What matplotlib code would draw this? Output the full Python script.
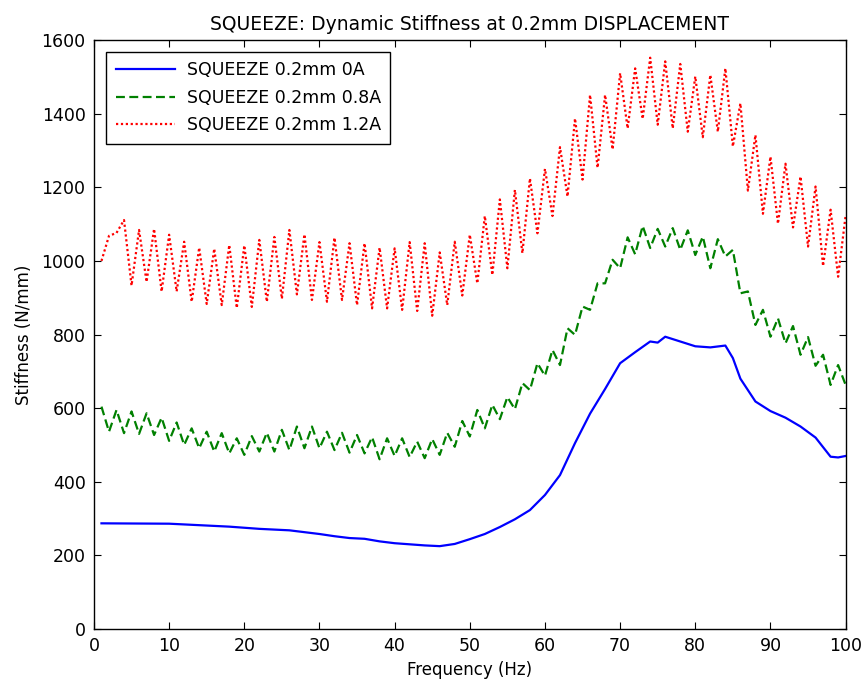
import matplotlib
matplotlib.use('Agg')
import matplotlib.pyplot as plt
import numpy as np

plt.rcParams['font.family'] = ['DejaVu Sans']

# frequencies 1..100 Hz
freq = list(range(1, 101))

# 1.2A curve (peaks at even Hz, troughs at odd Hz)
red = [1000, 1068, 1076, 1111, 933, 1084, 943, 1087, 917, 1071,
       917, 1052, 889, 1036, 883, 1033, 880, 1043, 872, 1042,
       875, 1057, 889, 1065, 897, 1084, 909, 1072, 894, 1051,
       889, 1063, 894, 1048, 880, 1048, 871, 1036, 871, 1034,
       867, 1051, 864, 1048, 851, 1023, 880, 1052, 906, 1071,
       939, 1122, 962, 1167, 980, 1193, 1021, 1224, 1075, 1250,
       1122, 1309, 1175, 1387, 1221, 1451, 1253, 1451, 1303, 1510,
       1360, 1523, 1386, 1552, 1370, 1542, 1360, 1535, 1351, 1501,
       1336, 1505, 1351, 1523, 1311, 1428, 1191, 1342, 1128, 1283,
       1101, 1264, 1091, 1229, 1039, 1202, 986, 1139, 957, 1123]

# 0.8A curve (peaks at odd Hz, troughs at even Hz)
green = [604, 536, 595, 532, 591, 530, 586, 527, 574, 511,
         561, 500, 545, 491, 536, 482, 532, 477, 518, 473,
         524, 482, 533, 482, 541, 486, 550, 491, 550, 491,
         536, 486, 533, 479, 527, 477, 521, 461, 518, 470,
         518, 467, 509, 464, 516, 473, 533, 495, 565, 523,
         595, 545, 609, 570, 630, 597, 668, 649, 722, 688,
         758, 717, 817, 799, 876, 867, 939, 939, 1003, 980,
         1064, 1018, 1095, 1035, 1087, 1039, 1089, 1030, 1083, 1016,
         1066, 980, 1059, 1012, 1030, 912, 917, 826, 867, 794,
         844, 776, 823, 745, 793, 715, 745, 663, 717, 663]

# 0A curve, smooth, sampled coarser
blue_f = [1, 10, 12, 14, 18, 20, 22, 26, 28, 30, 32, 34, 36, 38, 40, 42, 44, 46,
          48, 50, 52, 54, 56, 58, 60, 62, 64, 66, 68, 70, 72, 74, 75, 76, 78, 80,
          82, 84, 85, 86, 88, 90, 92, 94, 96, 98, 99, 100]
blue = [287, 286, 284, 282, 278, 275, 272, 268, 263, 258, 252, 247, 245, 238, 233, 230, 227, 225,
        231, 244, 258, 277, 298, 323, 364, 418, 505, 585, 652, 722, 752, 781, 778, 794, 781, 768,
        765, 770, 736, 680, 618, 592, 574, 550, 520, 468, 466, 470]

fig = plt.figure(figsize=(8.62, 6.88), dpi=100)
ax = fig.add_axes([0.109, 0.0858, 0.872, 0.856])

ax.plot(blue_f, blue, color='#0000ff', lw=1.6, ls='-', label='SQUEEZE 0.2mm 0A')
ax.plot(freq, green, color='#008000', lw=1.6, ls=(0, (4, 2)), label='SQUEEZE 0.2mm 0.8A')
ax.plot(freq, red, color='#ff0000', lw=1.6, ls=(0, (1, 1.2)), label='SQUEEZE 0.2mm 1.2A')

ax.set_xlim(0, 100)
ax.set_ylim(0, 1600)
ax.set_xticks(np.arange(0, 101, 10))
ax.set_yticks(np.arange(0, 1601, 200))
ax.tick_params(direction='in', length=5, labelsize=12.5, top=True, right=True, pad=6)
for s in ax.spines.values():
    s.set_linewidth(1.0)

ax.set_xlabel('Frequency (Hz)', fontsize=12, labelpad=4)
ax.set_ylabel('Stiffness (N/mm)', fontsize=12, labelpad=6)
ax.set_title('SQUEEZE: Dynamic Stiffness at 0.2mm DISPLACEMENT', fontsize=13.5, pad=7)

leg = ax.legend(loc='upper left', fontsize=12.5, fancybox=False, edgecolor='black',
                framealpha=1, handlelength=3.4, borderpad=0.55, labelspacing=0.55,
                handletextpad=0.7, borderaxespad=0, bbox_to_anchor=(0.016, 0.98))
leg.get_frame().set_linewidth(1.0)

fig.savefig('out.png', dpi=100)
